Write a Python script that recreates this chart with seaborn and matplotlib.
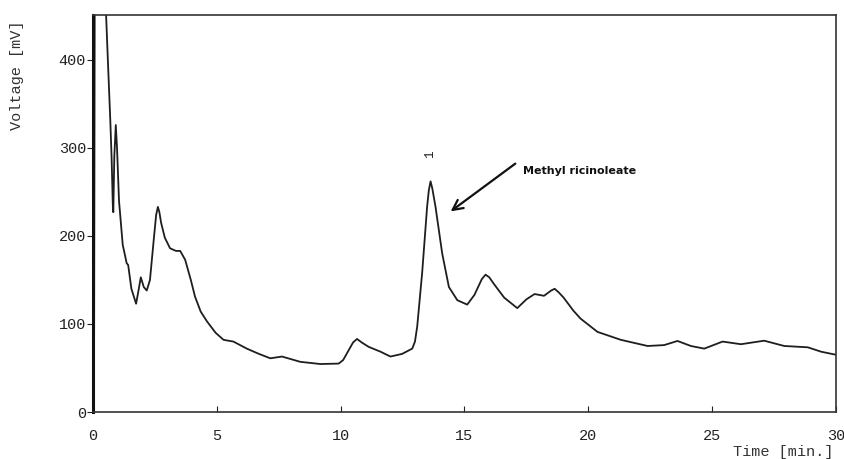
import pandas as pd
import matplotlib.pyplot as plt
import seaborn as sns

# Chromatogram trace
time_min = [0.0, 0.04, 0.07, 0.5, 0.53, 0.6, 0.7, 0.75, 0.8, 0.82, 0.86, 0.92, 0.97,
            1.05, 1.2, 1.36, 1.42, 1.55, 1.74, 1.85, 1.93, 2.05, 2.17, 2.3, 2.45,
            2.55, 2.62, 2.68, 2.75, 2.9, 3.11, 3.35, 3.52, 3.72, 3.95, 4.12, 4.35,
            4.6, 4.95, 5.27, 5.67, 6.21, 6.7, 7.16, 7.63, 8.0, 8.37, 9.18, 9.92,
            10.1, 10.26, 10.5, 10.66, 10.85, 11.13, 11.61, 12.01, 12.48, 12.89,
            13.0, 13.09, 13.29, 13.49, 13.56, 13.63, 13.7, 13.83, 14.1, 14.37,
            14.71, 15.11, 15.4, 15.7, 15.85, 16.0, 16.2, 16.6, 17.13, 17.5, 17.83,
            18.21, 18.5, 18.64, 18.8, 19.0, 19.4, 19.69, 20.37, 21.31, 22.39,
            23.06, 23.6, 24.14, 24.68, 25.42, 26.16, 27.1, 27.91, 28.86, 29.4, 30.0]
voltage_mv = [10, 12, 480, 480, 450, 400, 330, 290, 235, 227, 290, 326, 300,
              240, 190, 169, 167, 140, 123, 140, 153, 142, 138, 150, 195,
              224, 233, 227, 215, 198, 186, 183, 183, 173, 150, 131, 114,
              103, 90, 82, 80, 72, 66, 61, 63, 60, 57, 54.5, 55,
              59, 67, 79, 83, 79, 74, 68.5, 63, 66, 72,
              80, 97, 158, 233, 252, 262, 254, 233, 180, 142,
              127, 122, 133, 151, 156, 153, 145, 130, 118, 128, 134,
              132, 138, 140, 136, 130, 115, 106, 91, 82, 75,
              76, 80.7, 75, 72, 80, 77, 81, 75, 73.5, 68.5, 65]

x_ticks = [0, 5, 10, 15, 20, 25, 30]
y_ticks = [0, 100, 200, 300, 400]

peak_label = "1"
peak_time = 13.63
compound = "Methyl ricinoleate"

df = pd.DataFrame({"time": time_min, "voltage": voltage_mv})

sns.set_style("ticks")
plt.rcParams['font.family'] = ['Liberation Mono', 'DejaVu Sans Mono']

fig = plt.figure(figsize=(8.44, 4.59), dpi=100)
ax = fig.add_axes([93 / 844, 1 - 412 / 459, 743 / 844, 397 / 459])

sns.lineplot(data=df, x="time", y="voltage", ax=ax, color="#1e1e1e",
             linewidth=1.3, sort=False)

ax.set_xlim(0, 30)
ax.set_ylim(0, 451)
ax.set_xticks(x_ticks)
ax.set_yticks(y_ticks)
ax.set_xlabel("")
ax.set_ylabel("")
ax.tick_params(axis="x", direction="in", length=4, pad=12, labelsize=11,
               colors="#222222")
ax.tick_params(axis="y", direction="out", length=4, pad=1, labelsize=11,
               colors="#222222")

for side in ["top", "right", "bottom"]:
    ax.spines[side].set_visible(True)
    ax.spines[side].set_linewidth(1.2)
    ax.spines[side].set_color("#333333")
ax.spines["left"].set_linewidth(2.2)
ax.spines["left"].set_color("#111111")

# peak number and compound callout
ax.text(peak_time, 293, peak_label, rotation=90, ha="center", va="center",
        fontsize=9, color="#222222")
ax.annotate("", xy=(14.35, 226), xytext=(17.14, 284),
            arrowprops=dict(arrowstyle="->", lw=1.6, color="#111111",
                            mutation_scale=18))
ax.text(17.35, 274, compound, ha="left", va="center", fontsize=8,
        fontweight="heavy", family="DejaVu Sans", color="#111111")

fig.text(17 / 844, 1 - 75 / 459, "Voltage [mV]", rotation=90, ha="center",
         va="center", fontsize=11, color="#333333")
fig.text(833 / 844, 1 - 452 / 459, "Time [min.]", ha="right", va="center",
         fontsize=11, color="#333333")

fig.savefig("out.png", dpi=100)
